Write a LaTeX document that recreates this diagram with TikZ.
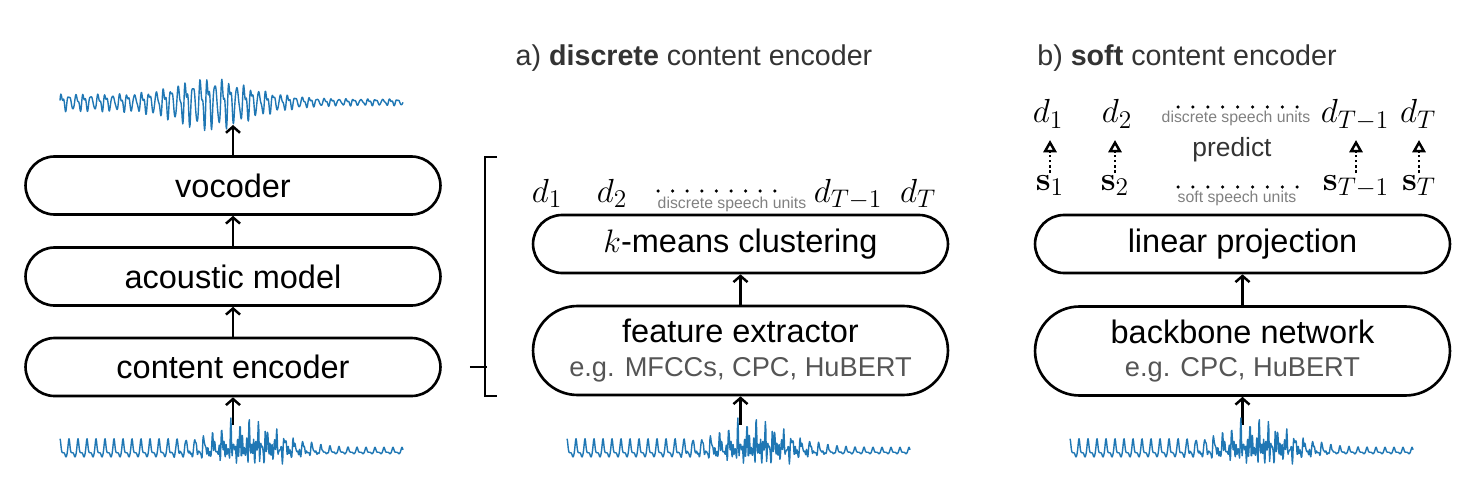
\RequirePackage{fix-cm}
\documentclass[tikz,border=0pt]{standalone}
\usepackage[no-math]{fontspec}
\setmainfont{Liberation Sans}
\usepackage{xcolor}
\usetikzlibrary{arrows.meta}
\usetikzlibrary{shapes.misc}
\DeclareMathSizes{19}{19}{14.5}{11}
\definecolor{wavecol}{HTML}{1F77B4}
\definecolor{subgray}{HTML}{555555}
\definecolor{titlegray}{HTML}{333333}
\begin{document}
\begin{tikzpicture}[x=0.02cm,y=-0.02cm,
  blk/.style={draw, line width=1.5pt, rounded rectangle, minimum width=8.3cm,
    minimum height=1.16cm, inner sep=0pt, font=\fontsize{18.5}{21}\selectfont},
  blktwo/.style={blk, minimum height=1.78cm, align=center},
  arr/.style={line width=1.4pt, -{Straight Barb[length=3.5pt,width=8pt]}},
  predarr/.style={line width=1.5pt, dash pattern=on 1.5pt off 1.5pt,
    -{Triangle[open,length=7pt,width=7.5pt,line width=1.4pt]}},
  unitlbl/.style={font=\fontsize{19}{22}\selectfont, inner sep=0pt, anchor=base},
  note/.style={font=\fontsize{9}{10}\selectfont, text=gray},
  wave/.style={wavecol, line width=0.8pt, line join=round},
]
\useasboundingbox (0,0) rectangle (1484,500);

% left: the whole conversion pipeline
\node[blk] (voc) at (233,185.5) {vocoder};
\node[blk] (am) at (233,276.5) {acoustic model};
\node[blk] (ce) at (233,367) {content encoder};
\coordinate (vocout) at (233,125);
\coordinate (wavein) at (233,425);
\draw[arr] (voc.north) -- (vocout);
\draw[arr] (am.north) -- (voc.south);
\draw[arr] (ce.north) -- (am.south);
\draw[arr] (wavein) -- (ce.south);

\draw[wave] plot[domain=0:343, samples=800, variable=\t]
({60+\t},{102-(2.5+4/(1+exp((\t-235)/15))+13*exp(-1*pow((\t-150)/45,2)))
  *(sin(mod(\t,7.3)*49.315)+0.35*sin(2*mod(\t,7.3)*49.315+40)
  +0.25*sin(mod(\t,3.1)*116.13))});

% bracket
\draw[line width=1.2pt] (497,157) -- (485,157) -- (485,396) -- (497,396);
\draw[line width=1.2pt] ([xshift=0.56cm]ce.east) -- ++(17,0);

% a) discrete
\node[font=\fontsize{16.3}{18}\selectfont, text=titlegray] (titlea) at (694,58)
  {a) \textbf{discrete} content encoder};
\node[blk] (km) at (740.5,244) {$k$-means clustering};
\node[blktwo] (fe) at (740.5,350.5) {feature extractor\\[-2pt]
  {\fontsize{15.5}{17}\selectfont\color{subgray}e.g. MFCCs, CPC, HuBERT}};
\coordinate (wavefe) at (740.5,425);
\draw[arr] (fe.north) -- (km.south);
\draw[arr] (wavefe) -- (fe.south);

\node[unitlbl] (da1) at (547,202) {$d_1$};
\node[unitlbl] (da2) at (612,202) {$d_2$};
\node[unitlbl] (daT1) at (848,202) {$d_{T-1}$};
\node[unitlbl] (daT) at (918,202) {$d_T$};
\foreach \i in {0,...,8}
  \fill (658+\i*14.6,191) circle (1pt);
\node[note] (nota) at (732,204) {discrete speech units};

% b) soft
\node[font=\fontsize{16.3}{18}\selectfont, text=titlegray] (titleb) at (1187,58)
  {b) \textbf{soft} content encoder};
\node[blk] (lp) at (1242.5,244) {linear projection};
\node[blktwo] (bb) at (1242.5,351) {backbone network\\[-2pt]
  {\fontsize{15.5}{17}\selectfont\color{subgray}e.g. CPC, HuBERT}};
\coordinate (wavebb) at (1242.5,425);
\draw[arr] (bb.north) -- (lp.south);
\draw[arr] (wavebb) -- (bb.south);

\node[unitlbl] (db1) at (1048,123) {$d_1$};
\node[unitlbl] (db2) at (1117,123) {$d_2$};
\node[unitlbl] (dbT1) at (1355,123) {$d_{T-1}$};
\node[unitlbl] (dbT) at (1418,123) {$d_T$};
\foreach \i in {0,...,8}
  \fill (1178+\i*14.9,107) circle (1pt);
\node[note] (notdb) at (1236,118) {discrete speech units};

\node[unitlbl] (s1) at (1050,190) {$\mathbf{s}_1$};
\node[unitlbl] (s2) at (1115,190) {$\mathbf{s}_2$};
\node[unitlbl] (sT1) at (1356,190) {$\mathbf{s}_{T-1}$};
\node[unitlbl] (sT) at (1419,190) {$\mathbf{s}_T$};
\foreach \i in {0,...,8}
  \fill (1178+\i*14.9,187) circle (1pt);
\node[note] (notsb) at (1237,198) {soft speech units};

\node[font=\fontsize{15}{17}\selectfont, text=titlegray] (pred) at (1232,150) {predict};
\coordinate (predlo) at (0,173);
\coordinate (predhi) at (0,140);
\foreach \s/\d in {s1/db1,s2/db2,sT1/dbT1,sT/dbT}
  \draw[predarr] (\s |- predlo) -- (\s |- predhi);

% input speech
\foreach \xo in {60,567,1070}
  \draw[wave] plot[domain=0:343, samples=800, variable=\t]
  ({\xo+\t},{452-((5+9/(1+exp((\t-245)/12)))*(pow(0.5+0.5*cos(mod(\t,9)*40),6)
    -0.3*pow(0.5+0.5*cos(mod(\t+3,9)*40),6)-0.05)
    +15*exp(-1*pow((\t-190)/45,2))*(sin(mod(\t,2.3)*156.52)*(0.6+0.4*cos(mod(\t,5.7)*63.16))
    +0.4*sin(mod(\t,3.1)*116.13+50)+0.3))});

\end{tikzpicture}
\end{document}
